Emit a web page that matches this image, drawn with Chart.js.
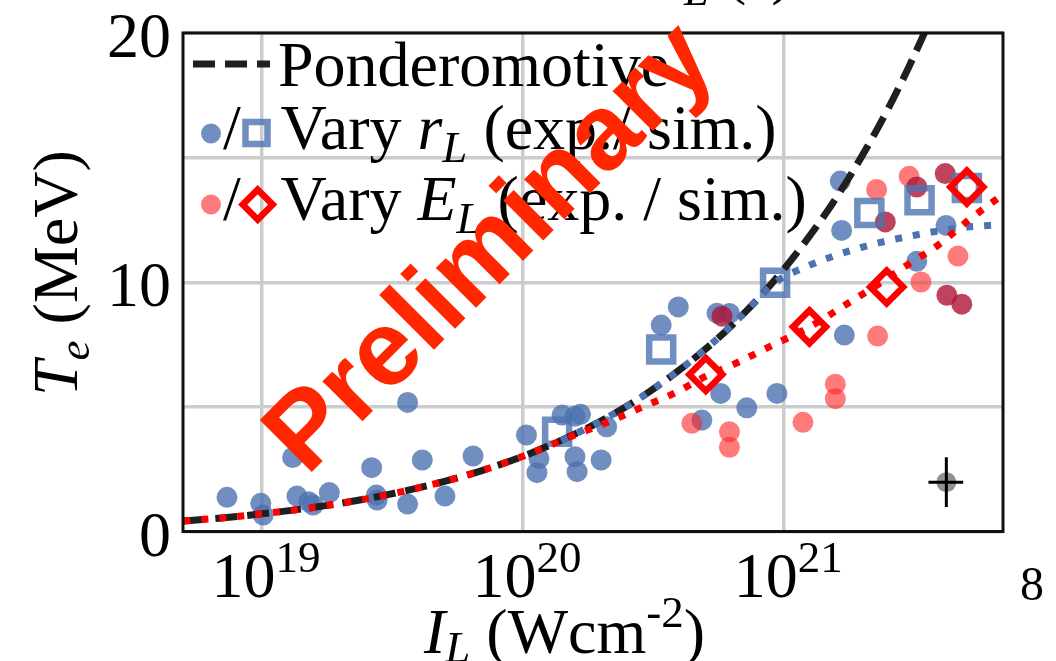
<!DOCTYPE html>
<html><head><meta charset="utf-8">
<script src="https://cdn.jsdelivr.net/npm/chart.js@4.4.1/dist/chart.umd.min.js"></script>
<style>html,body{margin:0;padding:0;background:#fff;}canvas{display:block;}</style>
</head><body>
<canvas id="c" width="1056" height="661"></canvas>
<script>
// ---------- data ----------
const xTickValues = [1e19, 1e20, 1e21];
const xTickExponents = ['19', '20', '21'];
const yTickValues = [0, 10, 20];
const yGridValues = [0, 5, 10, 15, 20];

// experiment, vary r_L (blue dots)
const rExpX = [7.34e18, 9.89e18, 1.01e19, 1.31e19, 1.36e19, 1.51e19, 1.57e19, 1.81e19, 2.63e19, 2.74e19, 2.76e19, 3.61e19, 4.11e19, 3.61e19, 5.02e19, 6.43e19,
  1.03e20, 1.15e20, 1.13e20, 1.41e20, 1.58e20, 1.66e20, 2.09e20, 1.58e20, 1.61e20, 1.99e20, 3.38e20, 3.93e20, 5.53e20, 6.17e20, 5.71e20, 7.19e20, 9.38e20, 4.84e20,
  1.64e21, 1.66e21, 4.17e21, 3.22e21, 1.70e21];
const rExpY = [1.37, 1.13, 0.66, 2.97, 1.42, 1.19, 1.06, 1.56, 2.56, 1.46, 1.26, 5.18, 2.87, 1.10, 1.42, 3.03,
  3.87, 2.93, 2.36, 4.67, 4.62, 4.70, 4.20, 3.00, 2.40, 2.87, 8.28, 9.01, 8.76, 8.75, 5.54, 4.96, 5.54, 4.47,
  14.06, 12.08, 12.28, 10.84, 7.88];

// experiment, vary E_L (light red dots)
const eExpX = [4.43e20, 6.17e20, 6.17e20, 1.57e21, 1.57e21, 1.18e21, 2.28e21, 2.26e21, 3.01e21, 4.63e21, 3.34e21];
const eExpY = [4.34, 4.00, 3.38, 5.91, 5.33, 4.38, 7.84, 13.72, 14.25, 11.05, 10.01];

// experiment, dark red dots
const dExpX = [5.78e20, 2.44e21, 3.22e21, 4.14e21, 4.20e21, 4.79e21];
const dExpY = [8.64, 12.42, 13.82, 14.36, 9.48, 9.12];

// simulation, vary r_L (squares)
const rSimX = [1.35e20, 3.38e20, 9.23e20, 2.12e21, 3.30e21, 5.01e21];
const rSimY = [4.00, 7.30, 9.98, 12.78, 13.29, 13.78];

// simulation, vary E_L (diamonds)
const eSimX = [5.01e20, 1.25e21, 2.47e21, 5.01e21];
const eSimY = [6.30, 8.21, 9.81, 13.82];

// ponderomotive curve
const pondX = [5e18, 7e18, 1e19, 1.5e19, 2e19, 3e19, 5e19, 7e19, 1e20, 1.5e20, 2e20, 3e20, 5e20, 7e20, 1e21, 1.5e21, 2e21, 2.5e21, 3e21, 3.5e21];
const pondY = [0.42, 0.545, 0.71, 0.935, 1.13, 1.47, 2.01, 2.455, 3.02, 3.80, 4.45, 5.56, 7.32, 8.74, 10.54, 13.02, 15.12, 16.96, 18.63, 20.16];

// fit, vary r_L (blue dotted)
const fitRX = [1.4e20, 2e20, 3e20, 5e20, 7e20, 9.2e20, 1.2e21, 1.9e21, 3e21, 4.7e21, 6.9e21];
const fitRY = [3.65, 4.45, 5.56, 7.32, 8.74, 9.98, 10.60, 11.35, 11.84, 12.18, 12.32];

// fit, vary E_L (red dotted)
const fitEX = [5e18, 7e18, 1e19, 1.5e19, 2e19, 3e19, 5e19, 7e19, 1e20, 1.5e20, 2.1e20, 2.8e20, 3.8e20, 5e20, 6.7e20, 8.8e20, 1.25e21, 1.75e21, 2.4e21, 3e21, 3.9e21, 5e21, 6.9e21];
const fitEY = [0.42, 0.545, 0.71, 0.935, 1.13, 1.47, 2.01, 2.455, 3.02, 3.78, 4.38, 4.95, 5.55, 6.22, 6.80, 7.42, 8.20, 9.15, 10.05, 10.73, 11.50, 12.43, 13.53];

// typical error point
const errX = [4.18e21];
const errY = [1.98];
const errXLow = [3.57e21];
const errXHigh = [4.85e21];
const errYHalf = [1.0];

// ---------- helpers ----------
const pts = (xs, ys) => xs.map((x, i) => ({x: x, y: ys[i]}));
const SERIF = '"Liberation Serif", "Times New Roman", serif';
function fnt(p) { return (p.it ? 'italic ' : '') + (p.sz || 64) + 'px ' + SERIF; }
function richWidth(ctx, parts) {
  let w = 0;
  parts.forEach(p => { ctx.font = fnt(p); p.w = ctx.measureText(p.t).width; w += p.w; });
  return w;
}
function drawRich(ctx, x, y, parts) {
  richWidth(ctx, parts);
  let cx = x;
  parts.forEach(p => { ctx.font = fnt(p); ctx.fillText(p.t, cx, y + (p.dy || 0)); cx += p.w; });
}

const BLUE = 'rgba(76,114,176,0.8)';
const LRED = 'rgba(255,40,40,0.62)';
const DRED = 'rgba(176,20,52,0.8)';
const LW = 7;       // curve width
const MW = 6.5;     // marker edge width

const overlay = {
  id: 'overlay',
  afterDatasetsDraw(chart) {
    const ctx = chart.ctx, xs = chart.scales.x, ys = chart.scales.y, a = chart.chartArea;
    ctx.save();
    // error bars
    ctx.strokeStyle = '#000'; ctx.lineWidth = 3;
    for (let i = 0; i < errX.length; i++) {
      const px = xs.getPixelForValue(errX[i]), py = ys.getPixelForValue(errY[i]);
      ctx.beginPath();
      ctx.moveTo(xs.getPixelForValue(errXLow[i]), py); ctx.lineTo(xs.getPixelForValue(errXHigh[i]), py);
      ctx.moveTo(px, ys.getPixelForValue(errY[i] - errYHalf[i])); ctx.lineTo(px, ys.getPixelForValue(errY[i] + errYHalf[i]));
      ctx.stroke();
    }
    // frame
    ctx.strokeStyle = '#111'; ctx.lineWidth = 3;
    ctx.strokeRect(a.left, a.top, a.right - a.left, a.bottom - a.top);
    ctx.restore();
  },
  afterDraw(chart) {
    const ctx = chart.ctx, xs = chart.scales.x, ys = chart.scales.y;
    ctx.save();
    ctx.fillStyle = '#000';
    ctx.textBaseline = 'alphabetic';
    // y tick labels
    ctx.font = fnt({});
    ctx.textAlign = 'right';
    yTickValues.forEach(v => { ctx.fillText(String(v), 171, ys.getPixelForValue(v) + 24); });
    ctx.textAlign = 'left';
    // x tick labels
    xTickValues.forEach((v, i) => {
      const parts = [{t: '10'}, {t: xTickExponents[i], sz: 45, dy: -25}];
      const w = richWidth(ctx, parts);
      drawRich(ctx, xs.getPixelForValue(v) + 4 - w / 2, 597, parts);
    });
    // stray label at right
    ctx.font = '48px ' + SERIF;
    ctx.fillText('8', 1020, 600);
    // x title
    drawRich(ctx, 424, 653, [{t: 'I', it: true}, {t: 'L', it: true, sz: 45, dy: 9}, {t: ' (Wcm'}, {t: '-2', sz: 45, dy: -26}, {t: ')'}]);
    // y title
    ctx.save();
    ctx.translate(77, 396);
    ctx.rotate(-Math.PI / 2);
    drawRich(ctx, 0, 0, [{t: 'T', it: true}, {t: 'e', it: true, sz: 45, dy: 12}, {t: ' (MeV)'}]);
    ctx.restore();
    // cut-off text at top (from figure above)
    drawRich(ctx, 645, -8, [{t: 'E', it: true}, {t: 'L', it: true, sz: 45, dy: 13}, {t: ' (J)'}]);

    // legend
    ctx.strokeStyle = '#1f1f1f'; ctx.lineWidth = LW; ctx.setLineDash([22, 10]);
    ctx.beginPath(); ctx.moveTo(193, 64); ctx.lineTo(270, 64); ctx.stroke();
    ctx.setLineDash([]);
    drawRich(ctx, 278, 86, [{t: 'Ponderomotive'}]);
    // row 2
    ctx.fillStyle = BLUE; ctx.beginPath(); ctx.arc(211, 133.5, 10, 0, Math.PI * 2); ctx.fill();
    ctx.fillStyle = '#000'; drawRich(ctx, 223, 149, [{t: '/'}]);
    ctx.strokeStyle = BLUE; ctx.lineWidth = MW; ctx.lineJoin = 'miter';
    ctx.strokeRect(256.5 - 11, 133 - 11, 22, 22);
    drawRich(ctx, 280.6, 149, [{t: 'Vary '}, {t: 'r', it: true}, {t: 'L', it: true, sz: 45, dy: 13}, {t: ' (exp./ sim.)'}]);
    // row 3
    ctx.fillStyle = LRED; ctx.beginPath(); ctx.arc(211, 204.5, 10, 0, Math.PI * 2); ctx.fill();
    ctx.fillStyle = '#000'; drawRich(ctx, 223, 220, [{t: '/'}]);
    ctx.strokeStyle = '#ff0000'; ctx.lineWidth = MW;
    ctx.beginPath(); ctx.moveTo(257.7 - 15, 204.6); ctx.lineTo(257.7, 204.6 - 15); ctx.lineTo(257.7 + 15, 204.6); ctx.lineTo(257.7, 204.6 + 15); ctx.closePath(); ctx.stroke();
    drawRich(ctx, 280.6, 220, [{t: 'Vary '}, {t: 'E', it: true}, {t: 'L', it: true, sz: 45, dy: 13}, {t: ' (exp. / sim.)'}]);

    // watermark
    ctx.save();
    ctx.translate(492, 250);
    ctx.rotate(-Math.PI / 4);
    ctx.fillStyle = 'rgb(255,38,0)';
    ctx.font = 'bold 107px "Liberation Sans", Arial, sans-serif';
    ctx.textAlign = 'center'; ctx.textBaseline = 'middle';
    ctx.fillText('Preliminary', 0, 0);
    ctx.restore();
    ctx.restore();
  }
};

const lineDs = (xs, ys, color, width, dash, order) => ({
  type: 'line', data: pts(xs, ys), borderColor: color, borderWidth: width, borderDash: dash,
  borderCapStyle: 'butt', pointRadius: 0, cubicInterpolationMode: 'monotone', fill: false, order: order, clip: 0
});
const dotDs = (xs, ys, color, r, order) => ({
  type: 'line', showLine: false, data: pts(xs, ys), pointRadius: r, pointBackgroundColor: color,
  pointBorderWidth: 0, pointBorderColor: 'rgba(0,0,0,0)', order: order
});

new Chart(document.getElementById('c'), {
  type: 'line',
  data: {
    datasets: [
      lineDs(fitEX, fitEY, '#ff0000', LW, [7, 11], 0),
      lineDs(fitRX, fitRY, '#4c72b0', LW, [7, 11], 1),
      lineDs(pondX, pondY, '#1f1f1f', LW, [22, 10], 2),
      {type: 'line', showLine: false, data: pts(eSimX, eSimY), pointStyle: 'rectRot', pointRadius: 16.5,
        pointBorderWidth: MW, pointBorderColor: '#ff0000', pointBackgroundColor: 'rgba(0,0,0,0)', order: 3},
      {type: 'line', showLine: false, data: pts(rSimX, rSimY), pointStyle: 'rect', pointRadius: 17,
        pointBorderWidth: MW, pointBorderColor: BLUE, pointBackgroundColor: 'rgba(0,0,0,0)', order: 4},
      dotDs(errX, errY, 'rgba(100,100,100,0.7)', 10, 5),
      dotDs(dExpX, dExpY, DRED, 10.5, 6),
      dotDs(eExpX, eExpY, LRED, 10.5, 7),
      dotDs(rExpX, rExpY, BLUE, 10.5, 8)
    ]
  },
  options: {
    responsive: false, animation: false, events: [], devicePixelRatio: 1,
    layout: {padding: {left: 183, right: 53, top: 33, bottom: 129.5}},
    plugins: {legend: {display: false}, tooltip: {enabled: false}},
    scales: {
      x: {
        type: 'logarithmic', min: 4.98e18, max: 6.89e21,
        afterBuildTicks: s => { s.ticks = xTickValues.map(v => ({value: v})); },
        grid: {color: '#cccccc', lineWidth: 3.5, drawTicks: false},
        border: {display: false},
        ticks: {display: false}
      },
      y: {
        type: 'linear', min: 0, max: 20,
        afterBuildTicks: s => { s.ticks = yGridValues.map(v => ({value: v})); },
        grid: {color: '#cccccc', lineWidth: 3.5, drawTicks: false},
        border: {display: false},
        ticks: {display: false}
      }
    }
  },
  plugins: [overlay]
});
</script>
</body></html>
